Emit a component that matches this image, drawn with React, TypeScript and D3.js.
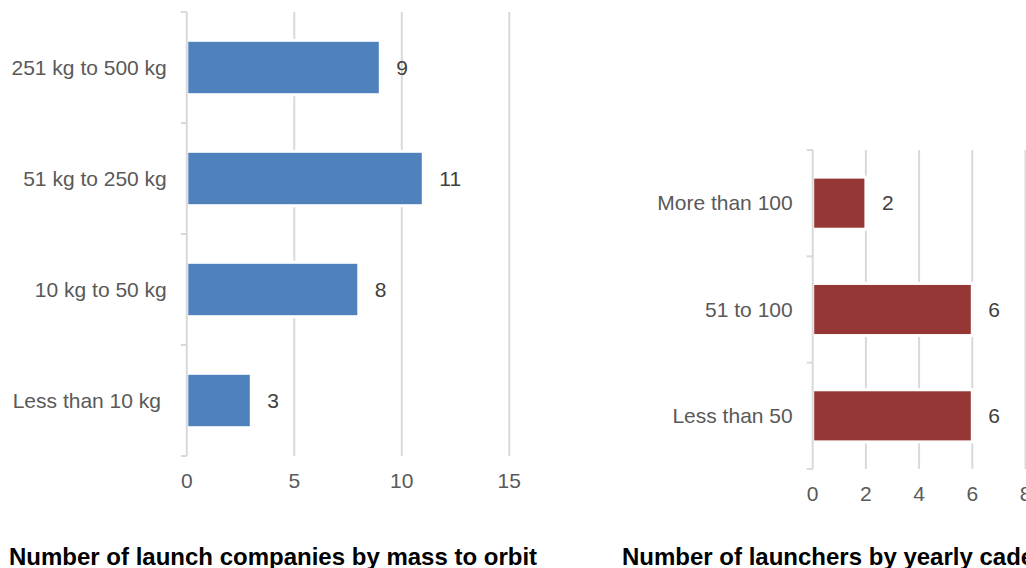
import React from "react";
import * as d3 from "d3";

const massCategories = ["251 kg to 500 kg", "51 kg to 250 kg", "10 kg to 50 kg", "Less than 10 kg "];
const massValues = [9, 11, 8, 3];
const massTicks = [0, 5, 10, 15];
const massTitle = "Number of launch companies by mass to orbit";

const cadenceCategories = ["More than 100", "51 to 100", "Less than 50"];
const cadenceValues = [2, 6, 6];
const cadenceTicks = [0, 2, 4, 6, 8];
const cadenceTitle = "Number of launchers by yearly cadence";

const FONT = "'Liberation Sans', Arial, sans-serif";
const GRID = "#d9d9d9";

type PanelProps = {
  categories: string[];
  values: number[];
  ticks: number[];
  x0: number;
  x1: number;
  y0: number;
  y1: number;
  color: string;
  title: string;
  titleX: number;
};

function Panel({ categories, values, ticks, x0, x1, y0, y1, color, title, titleX }: PanelProps) {
  const x = d3.scaleLinear().domain([ticks[0], ticks[ticks.length - 1]]).range([x0, x1]);
  const y = d3.scaleBand().domain(categories).range([y0, y1]).paddingInner(0.51).paddingOuter(0.255);
  const yb = d3.scaleBand().domain(categories).range([y0, y1]);
  const boundaries = [y0, ...categories.map((c) => (yb(c) as number) + yb.bandwidth())];
  return (
    <g>
      {ticks.slice(1).map((t) => (
        <line key={"g" + t} x1={x(t)} x2={x(t)} y1={y0} y2={y1} stroke={GRID} strokeWidth={2} />
      ))}
      {categories.map((c, i) => (
        <rect
          key={"b" + c}
          x={x(0)}
          y={y(c)}
          width={x(values[i]) - x(0)}
          height={y.bandwidth()}
          fill={color}
          stroke="#ffffff"
          strokeWidth={3}
        />
      ))}
      <line x1={x(0)} x2={x(0)} y1={y0} y2={y1} stroke={GRID} strokeWidth={2} />
      {boundaries.map((b, i) => (
        <line key={"t" + i} x1={x(0) - 6} x2={x(0)} y1={b} y2={b} stroke={GRID} strokeWidth={2} />
      ))}
      {categories.map((c) => (
        <text
          key={"c" + c}
          x={x(0) - 20}
          y={(yb(c) as number) + yb.bandwidth() / 2 + 7}
          textAnchor="end"
          fontSize={21}
          fill="#595959"
          style={{ whiteSpace: "pre" }}
        >
          {c}
        </text>
      ))}
      {categories.map((c, i) => (
        <text
          key={"v" + c}
          x={x(values[i]) + 16}
          y={(yb(c) as number) + yb.bandwidth() / 2 + 7}
          fontSize={21}
          fill="#404040"
        >
          {values[i]}
        </text>
      ))}
      {ticks.map((t) => (
        <text key={"l" + t} x={x(t)} y={y1 + 32} textAnchor="middle" fontSize={21} fill="#595959">
          {t}
        </text>
      ))}
      <text x={titleX} y={565} fontSize={24} fontWeight="bold" fill="#000000">
        {title}
      </text>
    </g>
  );
}

export default function App() {
  return (
    <svg
      width={1026}
      height={568}
      style={{ position: "absolute", left: 0, top: 0, background: "#ffffff", fontFamily: FONT }}
    >
      <rect x={0} y={0} width={1026} height={568} fill="#ffffff" />
      <Panel
        categories={massCategories}
        values={massValues}
        ticks={massTicks}
        x0={186.8}
        x1={509.3}
        y0={12}
        y1={456}
        color="#4F81BD"
        title={massTitle}
        titleX={9}
      />
      <Panel
        categories={cadenceCategories}
        values={cadenceValues}
        ticks={cadenceTicks}
        x0={812.7}
        x1={1025.5}
        y0={150}
        y1={469}
        color="#953735"
        title={cadenceTitle}
        titleX={622}
      />
    </svg>
  );
}
